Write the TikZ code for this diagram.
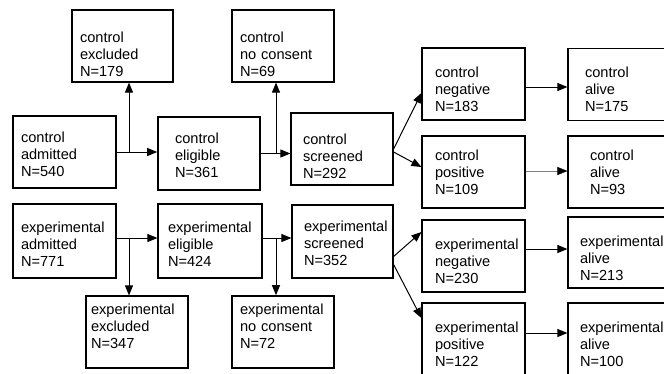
\documentclass[tikz,border=0pt]{standalone}
\usepackage{fontspec}
\setmainfont{Liberation Sans}
\usetikzlibrary{arrows.meta,calc}
\begin{document}
\begin{tikzpicture}[x=1pt, y=-1pt,
    box/.style={draw, line width=1.2pt, inner xsep=0pt, inner ysep=0pt, minimum width=103pt, minimum height=72pt,
        text width=83pt, text depth=36pt, align=left, font=\fontsize{14.6}{17}\selectfont},
    arr/.style={-{Triangle[length=10pt, width=8pt]}, line width=1pt}]
    \useasboundingbox (0,0) rectangle (664,373);
    \clip (0,0) rectangle (664,373);

    % control arm
    \node[box, minimum width=101pt, text width=85pt, text height=28pt] (cexc) at (122.5,46) {control\\excluded\\N=179};
    \node[box, minimum width=102pt, text width=86pt, text height=28pt] (cnoc) at (283,46) {control\\no consent\\N=69};
    \node[box, text width=87pt, text height=16pt] (cadm) at (64.5,152) {control\\admitted\\N=540};
    \node[box, minimum width=102pt, minimum height=73pt, text width=68pt, text height=15pt, line width=1.6pt] (celi) at (209,153.5) {control\\eligible\\N=361};
    \node[box, minimum width=102pt, text width=78pt, text height=26pt] (cscr) at (342,149) {control\\screened\\N=292};
    \node[box, text width=77pt, text height=22pt] (cneg) at (473.5,84) {control\\negative\\N=183};
    \node[box, text width=69pt, text height=22pt] (calv1) at (619.5,84.5) {control\\alive\\N=175};
    \node[box, text width=77pt, text height=12pt] (cpos) at (473.5,172) {control\\positive\\N=109};
    \node[box, text width=59pt, text height=13pt] (calv2) at (619.5,172) {control\\alive\\N=93};

    % experimental arm
    \node[box, minimum height=74pt, text width=87pt, text height=18pt] (eadm) at (64.5,241) {experimental\\admitted\\N=771};
    \node[box, minimum width=104pt, minimum height=74pt, text width=84pt, text height=18pt] (eeli) at (210,241) {experimental\\eligible\\N=424};
    \node[box, minimum width=101pt, minimum height=73pt, text width=77pt, text height=16pt] (escr) at (342.5,241.5) {experimental\\screened\\N=352};
    \node[box, minimum width=102pt, text width=92pt, text height=0pt] (eexc) at (137,332) {experimental\\excluded\\N=347};
    \node[box, minimum width=102pt, text width=86pt, text height=0pt, line width=1.6pt] (enoc) at (283,332) {experimental\\no consent\\N=72};
    \node[box, text width=77pt, text height=22pt] (eneg) at (473.5,256) {experimental\\negative\\N=230};
    \node[box, minimum height=71pt, text width=79pt, text height=24pt] (ealv1) at (619.5,252.5) {experimental\\alive\\N=213};
    \node[box, text width=77pt, text height=22pt] (epos) at (473.5,339) {experimental\\positive\\N=122};
    \node[box, text width=79pt, text height=22pt] (ealv2) at (619.5,339) {experimental\\alive\\N=100};

    % connectors
    \coordinate (cup) at (129,152);
    \coordinate (cnc) at (276,153.5);
    \coordinate (edn) at (129,238);
    \coordinate (enc) at (276,238);
    \draw[arr] (cadm.east) -- (cadm.east -| celi.west);
    \draw[arr] (cup) -- (cup |- cexc.south);
    \draw[arr] (celi.east) -- (celi.east -| cscr.west);
    \draw[arr] (cnc) -- (cnc |- cnoc.south);
    \draw[arr] (eadm.east |- edn) -- (edn -| eeli.west);
    \draw[arr] (edn) -- (edn |- eexc.north);
    \draw[arr] (eeli.east |- enc) -- (enc -| escr.west);
    \draw[arr] (enc) -- (enc |- enoc.north);

    \draw[arr] (cscr.east) -- ($(cneg.west)+(0,9)$);
    \draw[arr] ($(cscr.east)+(0,3)$) -- ($(cpos.west)+(0,-5)$);
    \draw[arr] ($(escr.east)+(0,15)$) -- ($(eneg.west)+(0,-24)$);
    \draw[arr] ($(escr.east)+(0,23)$) -- ($(epos.west)+(0,-21)$);

    \draw[arr] ($(cneg.east)+(0,3)$) -- ($(cneg.east -| calv1.west)+(0,3)$);
    \draw[-{Triangle[length=10pt, width=8pt, black]}, line width=0.5pt, gray] ($(cpos.east)+(0,-1)$) -- ($(cpos.east -| calv2.west)+(0,-1)$);
    \draw[arr] ($(eneg.east)+(0,-7)$) -- ($(eneg.east -| ealv1.west)+(0,-7)$);
    \draw[arr] ($(epos.east)+(0,-6)$) -- ($(epos.east -| ealv2.west)+(0,-6)$);
\end{tikzpicture}
\end{document}
